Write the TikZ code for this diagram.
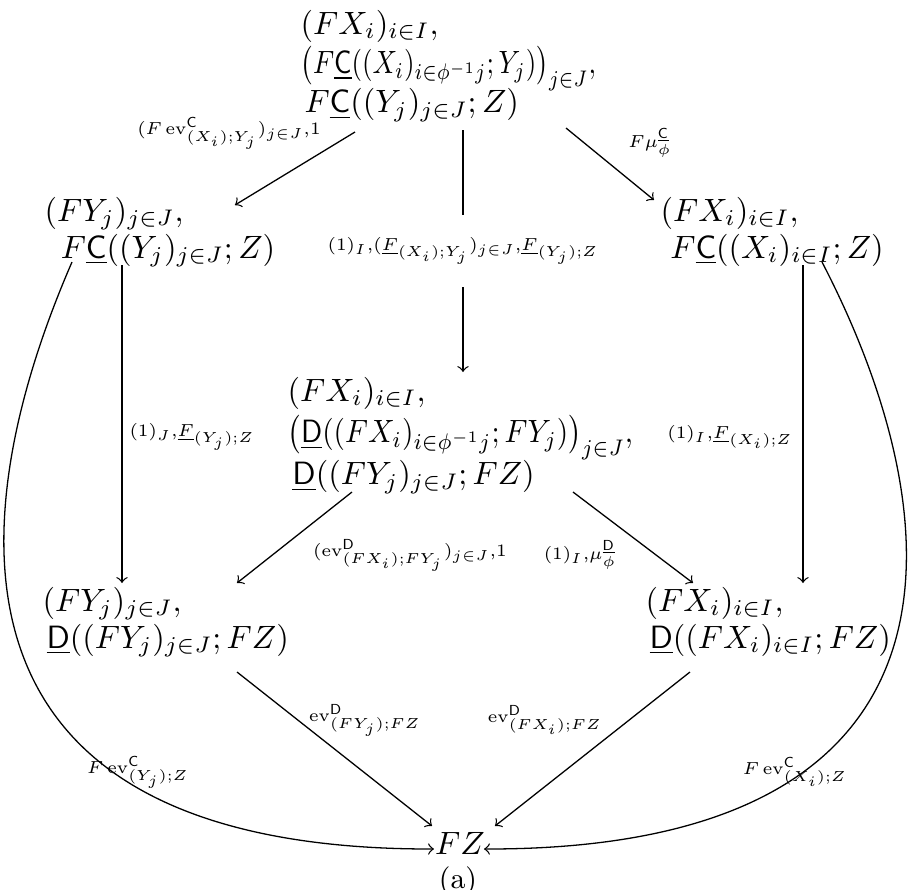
\documentclass[tikz,border=0pt]{standalone}
\usepackage{amsmath,amssymb,graphicx}
\usetikzlibrary{calc}
\newcommand\ulC{\underline{\mathsf{C}}}
\newcommand\ulD{\underline{\mathsf{D}}}
\newcommand\mlines[2]{\vtop{\lineskiplimit=-\maxdimen\baselineskip=#1\relax\halign{##\hfil\cr#2\crcr}}}
\newcommand\lbl[1]{\scalebox{0.9}{\fontsize{8.6}{10}\selectfont$\scriptstyle #1$}}
\begin{document}
\begin{tikzpicture}[x=0.31pt,y=-0.31pt,
  obj/.style={anchor=base west, inner sep=0pt},
  lab/.style={anchor=center, inner sep=0pt},
  arr/.style={->, line width=0.4pt}]
\useasboundingbox (0,0) rectangle (909,890);

\node[obj] (T) at (300,34) {\mlines{12.2pt}{$(FX_i)_{i\in I},$\cr
  \scalebox{0.84}[1]{$\bigl(F\ulC((X_i)_{i\in\phi^{-1}j};Y_j)\bigr)_{j\in J},$}\cr
  \kern1.2pt$F\ulC((Y_j)_{j\in J};Z)$}};
\node[obj] (L) at (44,221) {\mlines{11.5pt}{$(FY_j)_{j\in J},$\cr
  \kern5pt$F\ulC((Y_j)_{j\in J};Z)$}};
\node[obj] (R) at (660,221) {\mlines{11.5pt}{$(FX_i)_{i\in I},$\cr
  \kern3pt$F\ulC((X_i)_{i\in I};Z)$}};
\node[obj] (M) at (287,401) {\mlines{13pt}{$(FX_i)_{i\in I},$\cr
  \scalebox{0.91}[1]{$\bigl(\ulD((FX_i)_{i\in\phi^{-1}j};FY_j)\bigr)_{j\in J},$}\cr
  \kern1.5pt$\ulD((FY_j)_{j\in J};FZ)$}};
\node[obj] (BL) at (42,611) {\mlines{11.5pt}{$(FY_j)_{j\in J},$\cr
  \kern1.2pt$\ulD((FY_j)_{j\in J};FZ)$}};
\node[obj] (BR) at (645,611) {\mlines{11.5pt}{$(FX_i)_{i\in I},$\cr
  \kern1.2pt$\ulD((FX_i)_{i\in I};FZ)$}};
\node[lab] (FZ) at (460,843) {$FZ$};
\node[lab] (cap) at (458,881) {\fontsize{9}{11}\selectfont (a)};

% arrows
\draw[arr] ([shift={(55,98)}]T.base west) -- ([shift={(191,-16)}]L.base west);
\draw[arr] ([shift={(163,96)}]T.base west) --
  node[lab, fill=white, inner xsep=1pt, inner ysep=7pt] (l2)
  {\lbl{(1)_I,(\underline{F}_{(X_i);Y_j})_{j\in J},\underline{F}_{(Y_j);Z}}}
  ([shift={(176,-29)}]M.base west);
\draw[arr] ([shift={(266,94)}]T.base west) -- ([shift={(-6,-21)}]R.base west);
\draw[arr] ([shift={(78,44)}]L.base west) -- ([shift={(80,-28)}]BL.base west);
\draw[arr] ([shift={(143,44)}]R.base west) -- ([shift={(158,-28)}]BR.base west);
\draw[arr] ([shift={(65,91)}]M.base west) -- ([shift={(195,-28)}]BL.base west);
\draw[arr] ([shift={(286,91)}]M.base west) -- ([shift={(48,-28)}]BR.base west);
\draw[arr] ([shift={(195,61)}]BL.base west) -- ([shift={(-28,-17)}]FZ.center);
\draw[arr] ([shift={(45,61)}]BR.base west) -- ([shift={(35,-17)}]FZ.center);
\draw[arr] ([shift={(28,41)}]L.base west) .. controls (-40,520) and (-70,850) .. ([shift={(-26,6)}]FZ.center);
\draw[arr] ([shift={(162,41)}]R.base west) .. controls (956,520) and (986,850) .. ([shift={(24,6)}]FZ.center);

% labels
\node[lab] (l1) at (229,133) {\lbl{(F\operatorname{ev}^{\mathsf{C}}_{(X_i);Y_j})_{j\in J},1}};
\node[lab] (l3) at (650,143) {\lbl{F\mu^{\ulC}_{\phi}}};
\node[lab] (l4) at (192,437) {\lbl{(1)_J,\underline{F}_{(Y_j);Z}}};
\node[lab] (l5) at (730,437) {\lbl{(1)_I,\underline{F}_{(X_i);Z}}};
\node[lab] (l6) at (410,555) {\lbl{(\operatorname{ev}^{\mathsf{D}}_{(FX_i);FY_j})_{j\in J},1}};
\node[lab] (l7) at (580,555) {\lbl{(1)_I,\mu^{\ulD}_{\phi}}};
\node[lab] (l8) at (365,720) {\lbl{\operatorname{ev}^{\mathsf{D}}_{(FY_j);FZ}}};
\node[lab] (l9) at (545,720) {\lbl{\operatorname{ev}^{\mathsf{D}}_{(FX_i);FZ}}};
\node[lab] (l10) at (138,772) {\lbl{F\operatorname{ev}^{\mathsf{C}}_{(Y_j);Z}}};
\node[lab] (l11) at (795,772) {\lbl{F\operatorname{ev}^{\mathsf{C}}_{(X_i);Z}}};
\end{tikzpicture}
\end{document}
